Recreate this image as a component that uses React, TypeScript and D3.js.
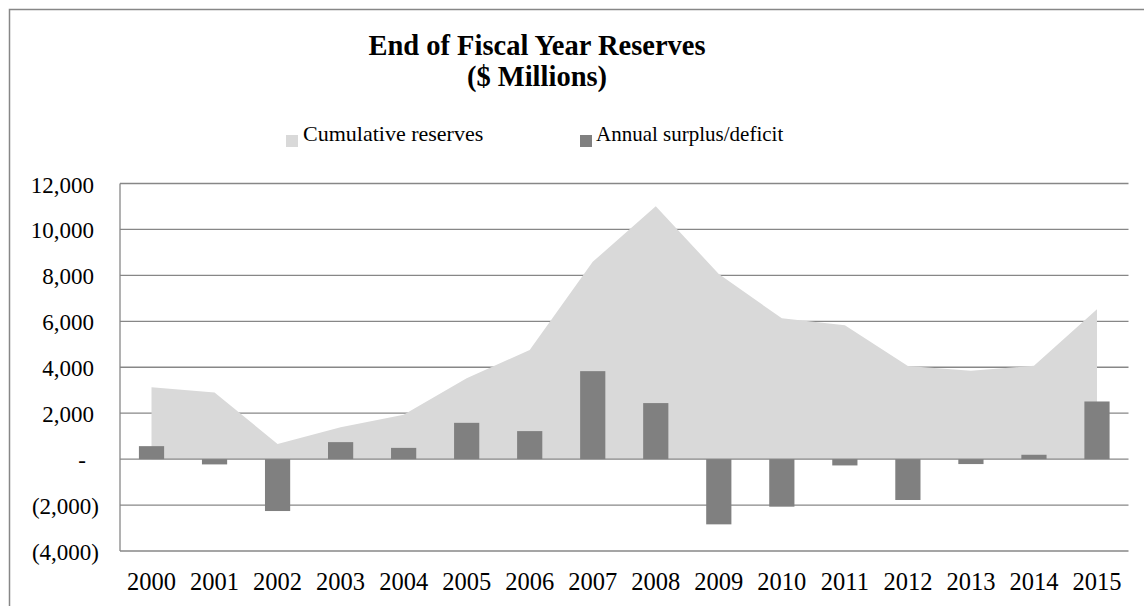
import React from "react";
import * as d3 from "d3";

const years = ["2000","2001","2002","2003","2004","2005","2006","2007","2008","2009","2010","2011","2012","2013","2014","2015"];
const cumulativeReserves = [3130, 2900, 660, 1390, 1930, 3520, 4750, 8590, 11010, 8060, 6130, 5830, 4050, 3850, 4060, 6530];
const annualSurplus = [565, -230, -2260, 740, 490, 1580, 1220, 3830, 2440, -2840, -2070, -275, -1780, -215, 190, 2510];
const yTicks = [12000, 10000, 8000, 6000, 4000, 2000, 0, -2000, -4000];
const titleLines = ["End of Fiscal Year Reserves", "($ Millions)"];
const legendLabels = ["Cumulative reserves", "Annual surplus/deficit"];

const W = 1144, H = 606;
const left = 120, right = 1128.5, top = 183.5, bottom = 551;
const FONT = "'Liberation Serif', 'Times New Roman', serif";
const AREA = "#d9d9d9", BAR = "#808080", GRID = "#878787";

function fmt(v: number) {
  if (v === 0) return "-";
  const s = d3.format(",")(Math.abs(v));
  return v < 0 ? `(${s})` : s;
}

export default function App() {
  const x = d3.scaleBand<string>().domain(years).range([left, right]).paddingInner(0.6).paddingOuter(0.3);
  const y = d3.scaleLinear().domain([-4000, 12000]).range([bottom, top]);
  const cx = (i: number) => (x(years[i]) as number) + x.bandwidth() / 2;

  const area = d3.area<number>()
    .x((_, i) => cx(i))
    .y0(y(0))
    .y1((d) => y(d));

  return (
    <svg width={W} height={H} style={{ position: "absolute", left: 0, top: 0, background: "#fff" }} fontFamily={FONT}>
      <rect x={0} y={0} width={W} height={H} fill="#fff" />
      <rect x={9.5} y={9.5} width={W + 50} height={H + 50} fill="none" stroke={GRID} strokeWidth={1.5} />

      {titleLines.map((t, i) => (
        <text key={t} x={537} y={55 + i * 30.5} textAnchor="middle" fontWeight="bold" fontSize={28.5} fill="#000">{t}</text>
      ))}

      <rect x={286} y={135} width={12} height={12} fill={AREA} />
      <text x={303} y={141} fontSize={22} fill="#000">{legendLabels[0]}</text>
      <rect x={580} y={135} width={12} height={12} fill={BAR} />
      <text x={596} y={141} fontSize={21} fill="#000">{legendLabels[1]}</text>

      {yTicks.filter((t) => t !== 0).map((t) => (
        <line key={t} x1={left} x2={right} y1={y(t)} y2={y(t)} stroke={GRID} strokeWidth={1.3} />
      ))}

      <path d={area(cumulativeReserves) as string} fill={AREA} />

      <line x1={left} x2={right} y1={y(0)} y2={y(0)} stroke={GRID} strokeWidth={1.3} />
      <line x1={left} x2={left} y1={top} y2={bottom} stroke={GRID} strokeWidth={1.3} />

      {annualSurplus.map((v, i) => (
        <rect key={years[i]} x={x(years[i])} width={x.bandwidth()}
          y={Math.min(y(v), y(0))} height={Math.abs(y(v) - y(0))} fill={BAR} />
      ))}

      {yTicks.map((t) => (
        <text key={t} x={t < 0 ? 99 : t === 0 ? 86 : 94} y={y(t) + 9} textAnchor="end" fontSize={23} fill="#000">{fmt(t)}</text>
      ))}

      {years.map((yr, i) => (
        <text key={yr} x={cx(i)} y={590} textAnchor="middle" fontSize={24.5} fill="#000">{yr}</text>
      ))}
    </svg>
  );
}
